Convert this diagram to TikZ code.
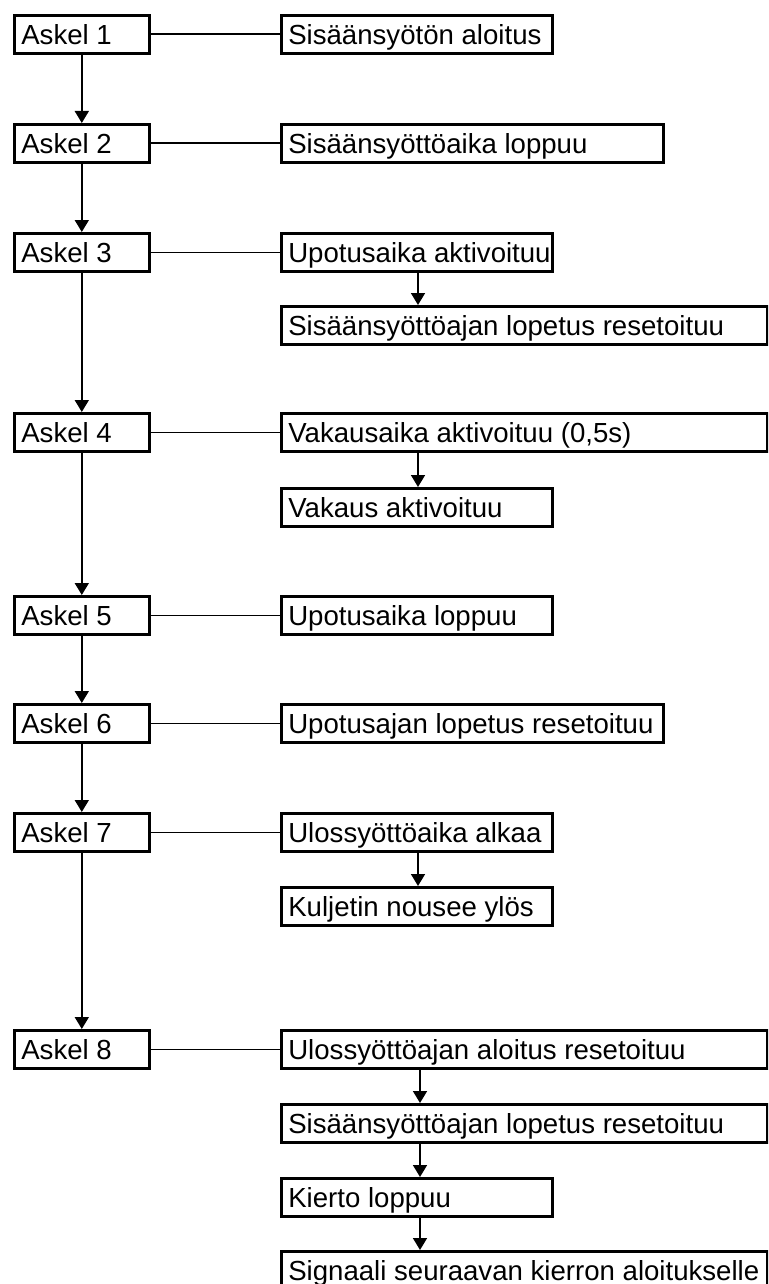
\documentclass[tikz,border=0pt]{standalone}
\usepackage{fontspec}
\setmainfont{Liberation Sans}
\usetikzlibrary{arrows.meta}
\newcommand\lbl[2]{\makebox[#1][l]{#2}}
\begin{document}
\begin{tikzpicture}[x=1pt,y=-1pt,
  box/.style={draw, line width=2.6pt, inner xsep=7pt, inner ysep=0pt,
    minimum height=38pt, text height=22pt, text depth=2pt, anchor=north west,
    font=\fontsize{27.6pt}{30pt}\selectfont},
  link/.style={line width=1.6pt},
  arr/.style={line width=1.6pt, -{Triangle[length=12pt,width=14pt]}}]
\useasboundingbox (0,0) rectangle (768,1284);
\fill[white] (0,0) rectangle (768,1284);
\clip (0,0) rectangle (768,1284);
% left column
\node[box] (a1) at (13,14)   {\lbl{121pt}{Askel 1}};
\node[box] (a2) at (13,123)  {\lbl{121pt}{Askel 2}};
\node[box] (a3) at (13,232)  {\lbl{121pt}{Askel 3}};
\node[box] (a4) at (13,412)  {\lbl{121pt}{Askel 4}};
\node[box] (a5) at (13,595)  {\lbl{121pt}{Askel 5}};
\node[box] (a6) at (13,703)  {\lbl{121pt}{Askel 6}};
\node[box] (a7) at (13,812)  {\lbl{121pt}{Askel 7}};
\node[box] (a8) at (13,1029) {\lbl{121pt}{Askel 8}};
% right column
\node[box] (r1)  at (280,14)   {\lbl{257pt}{Sisäänsyötön aloitus}};
\node[box] (r2)  at (280,123)  {\lbl{368pt}{Sisäänsyöttöaika loppuu}};
\node[box] (r3a) at (280,232)  {\lbl{257pt}{Upotusaika aktivoituu}};
\node[box] (r3b) at (280,305)  {\lbl{472pt}{Sisäänsyöttöajan lopetus resetoituu}};
\node[box] (r4a) at (280,412)  {\lbl{472pt}{Vakausaika aktivoituu (0,5s)}};
\node[box] (r4b) at (280,487)  {\lbl{257pt}{Vakaus aktivoituu}};
\node[box] (r5)  at (280,595)  {\lbl{257pt}{Upotusaika loppuu}};
\node[box] (r6)  at (280,703)  {\lbl{368pt}{Upotusajan lopetus resetoituu}};
\node[box] (r7a) at (280,812)  {\lbl{257pt}{Ulossyöttöaika alkaa}};
\node[box] (r7b) at (280,886)  {\lbl{257pt}{Kuljetin nousee ylös}};
\node[box] (r8a) at (280,1029) {\lbl{472pt}{Ulossyöttöajan aloitus resetoituu}};
\node[box] (r8b) at (280,1103) {\lbl{472pt}{Sisäänsyöttöajan lopetus resetoituu}};
\node[box] (r8c) at (280,1177) {\lbl{257pt}{Kierto loppuu}};
\node[box] (r8d) at (280,1250) {\lbl{472pt}{Signaali seuraavan kierron aloitukselle}};
% step arrows
\draw[arr] (a1.south) -- (a2.north);
\draw[arr] (a2.south) -- (a3.north);
\draw[arr] (a3.south) -- (a4.north);
\draw[arr] (a4.south) -- (a5.north);
\draw[arr] (a5.south) -- (a6.north);
\draw[arr] (a6.south) -- (a7.north);
\draw[arr] (a7.south) -- (a8.north);
% horizontal links
\draw[link] (a1.east) -- (r1.west);
\draw[link] (a2.east) -- (r2.west);
\draw[link] (a3.east) -- (r3a.west);
\draw[link] (a4.east) -- (r4a.west);
\draw[link] (a5.east) -- (r5.west);
\draw[link] (a6.east) -- (r6.west);
\draw[link] (a7.east) -- (r7a.west);
\draw[link] (a8.east) -- (r8a.west);
% right column arrows
\draw[arr] ([xshift=138pt]r3a.south west) -- ([xshift=138pt]r3b.north west);
\draw[arr] ([xshift=138pt]r4a.south west) -- ([xshift=138pt]r4b.north west);
\draw[arr] ([xshift=138pt]r7a.south west) -- ([xshift=138pt]r7b.north west);
\draw[arr] ([xshift=140pt]r8a.south west) -- ([xshift=140pt]r8b.north west);
\draw[arr] ([xshift=140pt]r8b.south west) -- ([xshift=140pt]r8c.north west);
\draw[arr] ([xshift=140pt]r8c.south west) -- ([xshift=140pt]r8d.north west);
\end{tikzpicture}
\end{document}
